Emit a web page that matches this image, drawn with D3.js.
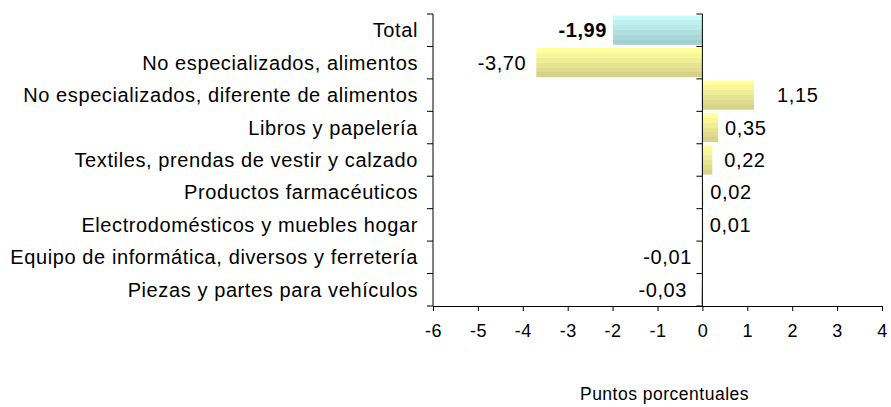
<!DOCTYPE html>
<html><head><meta charset="utf-8">
<script src="https://cdn.jsdelivr.net/npm/d3@7"></script>
<style>body{margin:0;background:#fff}svg{display:block}text{font-family:"Liberation Sans",Arial,sans-serif;fill:#000}</style>
</head><body><svg id="c" width="891" height="407"></svg>
<script>
const categories = ["Total","No especializados, alimentos","No especializados, diferente de alimentos","Libros y papelería","Textiles, prendas de vestir y calzado","Productos farmacéuticos","Electrodomésticos y muebles hogar","Equipo de informática, diversos y ferretería","Piezas y partes para vehículos"];
const values = [-1.99,-3.70,1.15,0.35,0.22,0.02,0.01,-0.01,-0.03];
const valueLabels = ["-1,99","-3,70","1,15","0,35","0,22","0,02","0,01","-0,01","-0,03"];
const labelOffsets = [6,10,23,7,12,7,7,10,14];
const xTicks = [-6,-5,-4,-3,-2,-1,0,1,2,3,4];
const xTitle = "Puntos porcentuales";

const svg = d3.select("#c");
const L=433,R=882,T=14,B=306;
const x = d3.scaleLinear().domain([-6,4]).range([L,R]);
const y = d3.scaleBand().domain(categories).range([T,B]).paddingInner(0.1).paddingOuter(0.05);

const defs = svg.append("defs");
function stripes(id, top, bottom){
  const g = defs.append("linearGradient").attr("id",id).attr("x1",0).attr("x2",0).attr("y1",0).attr("y2",1);
  const n=6, c=d3.interpolateRgb(top,bottom);
  for(let i=0;i<n;i++){
    g.append("stop").attr("offset",i/n).attr("stop-color",c(i/(n-1)));
    g.append("stop").attr("offset",(i+1)/n).attr("stop-color",c(i/(n-1)));
  }
}
stripes("gy","#ffff9c","#d6d28a");
stripes("gc","#c8fafa","#a2cfcf");

svg.append("g").selectAll("rect").data(values).join("rect")
  .attr("x",d=>x(Math.min(0,d))).attr("width",d=>Math.max(1,Math.abs(x(d)-x(0))))
  .attr("y",(d,i)=>y(categories[i])).attr("height",y.bandwidth())
  .attr("fill",(d,i)=>i===0?"url(#gc)":"url(#gy)");

// x axis
const xa = svg.append("g").attr("transform",`translate(0,${B})`)
  .call(d3.axisBottom(x).tickValues(xTicks).tickSize(5).tickSizeOuter(0).tickPadding(6).tickFormat(d=>d));
xa.select(".domain").attr("stroke","#000");
xa.selectAll("line").attr("stroke","#000");
xa.selectAll("text").attr("font-size","18px").attr("letter-spacing","0.5px")
  .attr("font-family","Liberation Sans, Arial").attr("dy",null).attr("y",31);

// vertical lines with ticks at band boundaries
const bounds = d3.range(categories.length+1).map(i=>T+i*(B-T)/categories.length);
[x(-6), x(0)].forEach(px=>{
  const g=svg.append("g");
  g.append("line").attr("x1",px).attr("x2",px).attr("y1",T).attr("y2",B).attr("stroke","#000");
  g.selectAll("line.t").data(bounds).join("line").attr("class","t")
    .attr("x1",px-6).attr("x2",px).attr("y1",d=>d).attr("y2",d=>d).attr("stroke","#000");
});

// category labels
svg.append("g").selectAll("text").data(categories).join("text")
  .attr("x",L-15).attr("y",d=>y(d)+y.bandwidth()/2).attr("dy","0.35em")
  .attr("text-anchor","end").attr("font-size","20px").attr("letter-spacing","0.6px").text(d=>d);

// value labels
svg.append("g").selectAll("text").data(values).join("text")
  .attr("x",(d,i)=>d<0?x(d)-labelOffsets[i]:x(d)+labelOffsets[i])
  .attr("y",(d,i)=>y(categories[i])+y.bandwidth()/2).attr("dy","0.35em")
  .attr("text-anchor",d=>d<0?"end":"start").attr("font-size","20px").attr("letter-spacing","0.6px")
  .attr("font-weight",(d,i)=>i===0?"bold":"normal").text((d,i)=>valueLabels[i]);

svg.append("text").attr("x",(L+R)/2+7).attr("y",400).attr("text-anchor","middle")
  .attr("font-size","17.5px").attr("letter-spacing","0.5px").text(xTitle);
</script></body></html>
